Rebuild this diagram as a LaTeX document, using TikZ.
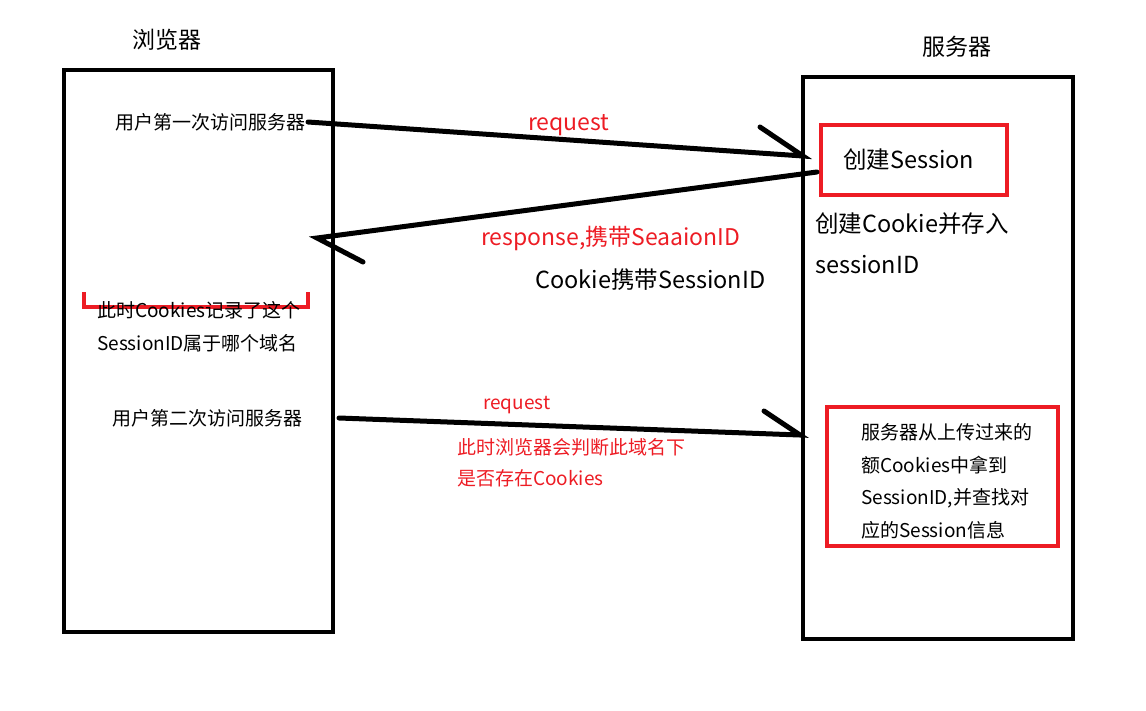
\documentclass[tikz,border=0pt]{standalone}
\usepackage{fontspec}
\setmainfont{Noto Sans CJK SC}
\definecolor{pred}{HTML}{ED1C24}
\begin{document}
\begin{tikzpicture}[x=1pt,y=-1pt,
  lbl/.style={inner sep=0pt, anchor=west, font=\fontsize{19}{19}\selectfont},
  big/.style={inner sep=0pt, anchor=west, font=\fontsize{23.5}{23.5}\selectfont},
  redlbl/.style={lbl, text=pred},
  bigred/.style={inner sep=0pt, anchor=west, text=pred, font=\fontsize{23}{23}\selectfont},
  frame/.style={draw=black, line width=4pt},
  redframe/.style={draw=pred, line width=4.5pt},
  msg/.style={draw=black, line width=5pt, line cap=round}]
\useasboundingbox (0,0) rectangle (1146,710);

% lifeline boxes
\draw[frame] (64,70) rectangle (333,632);
\draw[frame] (803,77) rectangle (1073,639);
\node[inner sep=0pt, font=\fontsize{23}{23}\selectfont] (tb) at (167,40) {浏览器};
\node[inner sep=0pt, font=\fontsize{23}{23}\selectfont] (ts) at (957,47) {服务器};

% first request
\node[lbl] (u1) at (115,122) {用户第一次访问服务器};
\coordinate (a1s) at (308,122);
\coordinate (a1e) at (803,156);
\coordinate (a1b) at (760,127);
\draw[msg] (a1s) -- (a1e) -- (a1b);
\node[bigred] (req1) at (528,125) {request};

% session box
\draw[redframe] (821,125) rectangle (1007,195);
\node[big] (cs) at (843,160) {创建Session};
\node[big] (cc1) at (815,224) {创建Cookie并存入};
\node[big] (cc2) at (815,265) {sessionID};

% response
\coordinate (a2s) at (817,172);
\coordinate (a2e) at (317,238);
\coordinate (a2b) at (363,262);
\draw[msg] (a2s) -- (a2e) -- (a2b);
\node[bigred] (resp) at (481,238) {response,携带SeaaionID};
\node[big] (ck) at (535,280) {Cookie携带SessionID};

% cookie note with bracket
\draw[draw=pred, line width=4pt] (84,292) -- (84,307) -- (308,307) -- (308,292);
\node[lbl] (n1) at (97,310) {此时Cookies记录了这个};
\node[lbl] (n2) at (97,343) {SessionID属于哪个域名};

% second request
\node[lbl] (u2) at (112,418) {用户第二次访问服务器};
\coordinate (a3s) at (339,418);
\coordinate (a3e) at (800,435);
\coordinate (a3b) at (764,411);
\draw[msg] (a3s) -- (a3e) -- (a3b);
\node[redlbl, font=\fontsize{19}{19}\selectfont] (req2) at (483,405) {request};
\node[redlbl] (j1) at (457,447) {此时浏览器会判断此域名下};
\node[redlbl] (j2) at (457,478) {是否存在Cookies};

% lookup box
\draw[redframe] (827,407) rectangle (1058,546);
\node[lbl] (s1) at (861,432) {服务器从上传过来的};
\node[lbl] (s2) at (861,465) {额Cookies中拿到};
\node[lbl] (s3) at (861,498) {SessionID,并查找对};
\node[lbl] (s4) at (861,530) {应的Session信息};
\end{tikzpicture}
\end{document}
